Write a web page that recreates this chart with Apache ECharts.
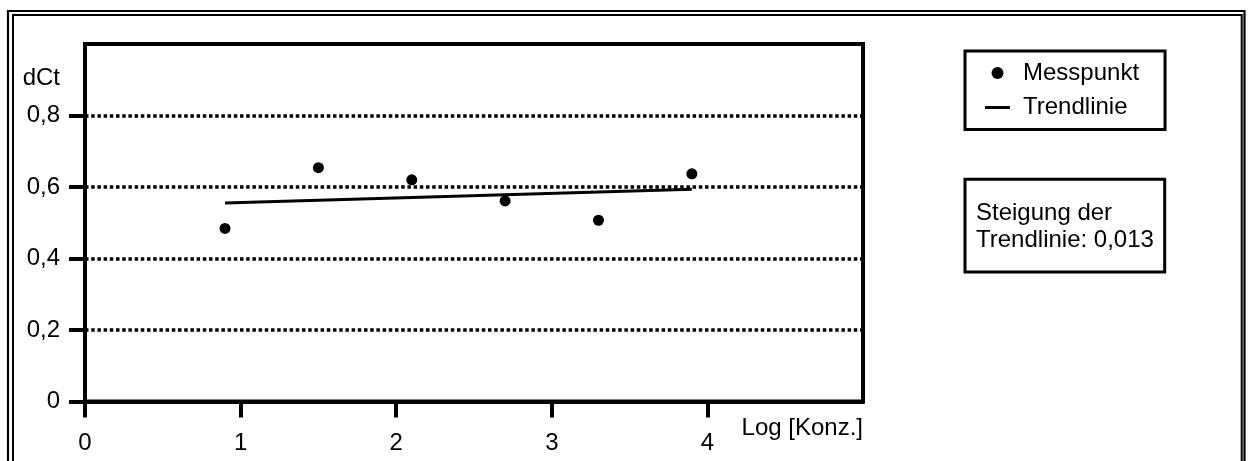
<!DOCTYPE html>
<html>
<head>
<meta charset="utf-8">
<script src="https://cdn.jsdelivr.net/npm/echarts@6/dist/echarts.min.js"></script>
<style>
html,body{margin:0;padding:0;background:#fff;}
#chart{width:1248px;height:461px;}
</style>
</head>
<body>
<div id="chart"></div>
<script>
// ---- data ----
const xTickValues = [0, 1, 2, 3, 4];
const yTickValues = [0, 0.2, 0.4, 0.6, 0.8];
const pointX = [0.9, 1.5, 2.1, 2.7, 3.3, 3.9];
const pointY = [0.484, 0.654, 0.620, 0.561, 0.507, 0.637];
const trendX = [0.9, 3.9];
const trendY = [0.555, 0.594];
const seriesNames = ['Messpunkt', 'Trendlinie'];
const xAxisName = 'Log [Konz.]';
const yAxisName = 'dCt';
const slopeLines = ['Steigung der', 'Trendlinie: 0,013'];

const FONT = '"Liberation Sans", Arial, sans-serif';
const FS = 24;
const fmt = v => String(v).replace('.', ',');
// thin horizontal bar icon inside a 25x12 box (tiny sliver fixes the bounding box height)
const LINE_ICON = 'path://M0,0 L0.01,0 L0.01,12 L0,12 Z M0,4.5 L25,4.5 L25,7.5 L0,7.5 Z';

const chart = echarts.init(document.getElementById('chart'), null, {renderer: 'canvas'});
chart.setOption({
  backgroundColor: '#fff',
  animation: false,
  grid: {
    left: 85, top: 44, width: 778, height: 357.5,
    show: true, borderColor: '#000', borderWidth: 4, backgroundColor: 'transparent'
  },
  xAxis: {
    type: 'value', min: 0, max: 5, interval: 1,
    axisLine: {show: true, onZero: false, lineStyle: {color: '#000', width: 4}},
    axisTick: {show: true, length: 16, customValues: xTickValues, lineStyle: {color: '#000', width: 4}},
    axisLabel: {customValues: xTickValues, margin: 30, color: '#000', fontSize: FS, fontFamily: FONT, formatter: fmt},
    splitLine: {show: false},
    name: xAxisName, nameLocation: 'end', nameGap: 0,
    nameTextStyle: {align: 'right', verticalAlign: 'top', padding: [15, 0, 0, 0], color: '#000', fontSize: FS, lineHeight: FS, fontFamily: FONT}
  },
  yAxis: {
    type: 'value', min: 0, max: 1, interval: 0.2,
    axisLine: {show: true, onZero: false, lineStyle: {color: '#000', width: 4}},
    axisTick: {show: true, length: 16, customValues: yTickValues, lineStyle: {color: '#000', width: 4}},
    axisLabel: {customValues: yTickValues, margin: 25, color: '#000', fontSize: FS, fontFamily: FONT, formatter: fmt},
    splitLine: {show: true, lineStyle: {color: '#000', width: 3.5, type: [3.5, 2.7], cap: 'butt'}},
    name: yAxisName, nameLocation: 'end', nameGap: -34,
    nameTextStyle: {align: 'right', verticalAlign: 'middle', padding: [0, 25, 0, 0], color: '#000', fontSize: FS, lineHeight: FS, fontFamily: FONT}
  },
  legend: {
    orient: 'vertical', left: 965, top: 51,
    padding: [10, 26, 10, 20],
    itemWidth: 25, itemHeight: 12, itemGap: 10.4,
    borderColor: '#000', borderWidth: 3, backgroundColor: '#fff',
    textStyle: {color: '#000', fontSize: FS, fontFamily: FONT, lineHeight: FS, width: 116, padding: [0, 0, 0, 8]},
    data: [
      {name: seriesNames[0], icon: 'circle', itemStyle: {color: '#000', opacity: 1}},
      {name: seriesNames[1], icon: LINE_ICON, itemStyle: {color: '#000', opacity: 1, borderWidth: 0}}
    ]
  },
  series: [
    {
      name: seriesNames[0], type: 'scatter', symbol: 'circle', symbolSize: 11,
      itemStyle: {color: '#000', opacity: 1},
      data: pointX.map((x, i) => [x, pointY[i]]), z: 5
    },
    {
      name: seriesNames[1], type: 'line', symbol: 'none', showSymbol: false,
      lineStyle: {color: '#000', width: 3}, itemStyle: {color: '#000'},
      data: trendX.map((x, i) => [x, trendY[i]]), z: 4
    }
  ],
  graphic: [
    {type: 'rect', shape: {x: 8, y: 11, width: 1236.5, height: 470}, style: {fill: 'transparent', stroke: '#000', lineWidth: 2.2}, silent: true},
    {type: 'rect', shape: {x: 13, y: 15, width: 1228.7, height: 470}, style: {fill: 'transparent', stroke: '#000', lineWidth: 2}, silent: true},
    {type: 'rect', shape: {x: 965, y: 179.3, width: 199.7, height: 92.7}, style: {fill: '#fff', stroke: '#000', lineWidth: 3}},
    {type: 'text', x: 976, y: 226.7, style: {text: slopeLines.join('\n'), fill: '#000', fontSize: FS, fontFamily: FONT, lineHeight: 27, verticalAlign: 'middle', align: 'left'}}
  ]
});
</script>
</body>
</html>
